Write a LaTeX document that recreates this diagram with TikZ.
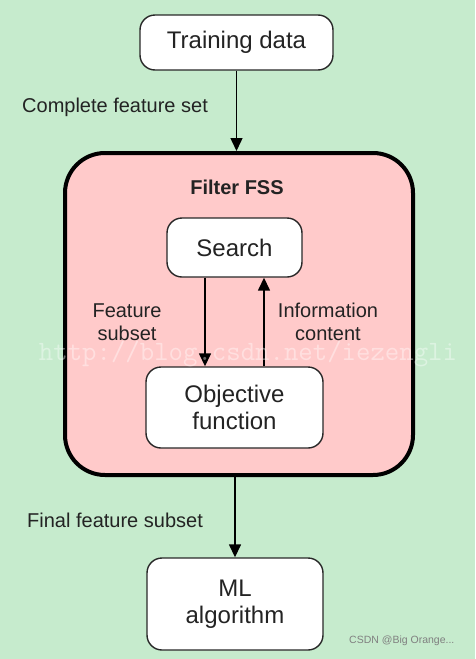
\documentclass[tikz,border=0pt]{standalone}
\usepackage{fontspec}
\setmainfont{Liberation Sans}
\usetikzlibrary{arrows.meta,calc}
\definecolor{bggreen}{RGB}{198,235,205}
\definecolor{boxpink}{RGB}{255,202,202}
\definecolor{edge}{RGB}{40,40,40}
\definecolor{txt}{RGB}{35,35,35}
\tikzset{
  smallbox/.style={draw=edge, line width=1.4pt, fill=white, rounded corners=15pt,
    align=center, text=txt, inner sep=0pt, font=\fontsize{24}{27}\selectfont},
  bigbox/.style={draw=black, line width=4pt, fill=boxpink, rounded corners=40pt, inner sep=0pt},
  lbl/.style={text=txt, align=center, inner sep=0pt, font=\fontsize{20}{23}\selectfont},
  flow/.style={draw=black, line width=1.5pt, -{Triangle[length=13pt,width=12pt]}}
}
\begin{document}
\begin{tikzpicture}[x=1pt,y=-1pt]
\fill[bggreen] (0,0) rectangle (475,659);
\useasboundingbox (0,0) rectangle (475,659);

\node[smallbox, minimum width=193pt, minimum height=55pt] (train) at (236.5,42.5) {Training data};
\node[bigbox, minimum width=348pt, minimum height=322pt] (fss) at (239,314) {};
\node[font=\bfseries\fontsize{20}{23}\selectfont, text=txt, inner sep=0pt] (fsstitle) at (237,187) {Filter FSS};
\node[smallbox, minimum width=135pt, minimum height=59pt] (search) at (234.5,247.5) {Search};
\node[smallbox, minimum width=177pt, minimum height=81pt] (obj) at (234.5,407.5) {Objective\\function};
\node[smallbox, minimum width=176pt, minimum height=92pt] (ml) at (235,604) {ML\\algorithm};

\node[lbl, anchor=west] (lcomplete) at (22,107) {Complete feature set};
\node[lbl] (lfeat) at (127,322) {Feature\\subset};
\node[lbl] (linfo) at (328,322) {Information\\content};
\node[lbl, anchor=west] (lfinal) at (27,520) {Final feature subset};

\draw[flow] (train.south) -- (train.south |- fss.north);
\draw[flow] ([xshift=-29.5pt]search.south) -- ([xshift=-29.5pt]search.south |- obj.north);
\draw[flow] ([xshift=29.5pt]obj.north) -- ([xshift=29.5pt]obj.north |- search.south);
\draw[flow] (fss.south -| ml.north) -- (ml.north);

\node[text=white, opacity=0.4, inner sep=0pt, font=\ttfamily\fontsize{28}{30}\selectfont] (wm) at (248,354) {http://blog.csdn.net/iezengli};
\node[text=gray, inner sep=0pt, anchor=west, font=\fontsize{10.5}{12}\selectfont] (csdn) at (349,641) {CSDN @Big Orange...};
\end{tikzpicture}
\end{document}
